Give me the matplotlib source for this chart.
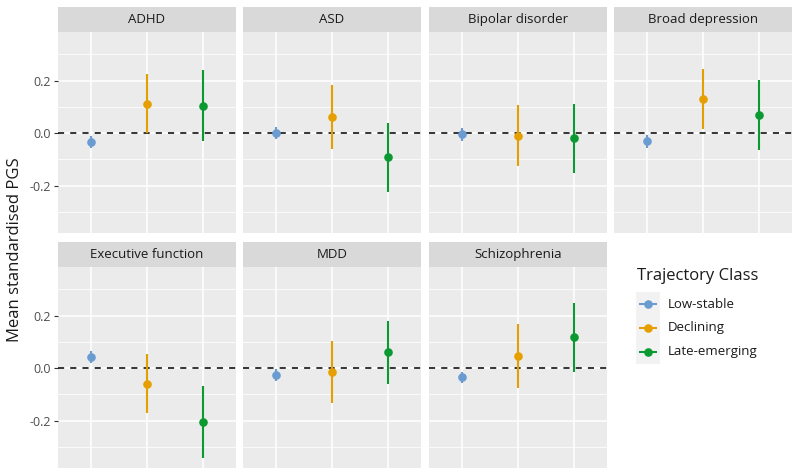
import matplotlib.pyplot as plt
from matplotlib.lines import Line2D

plt.rcParams["font.family"] = ["Open Sans", "DejaVu Sans"]

TRAITS = ["ADHD", "ASD", "Bipolar disorder", "Broad depression",
          "Executive function", "MDD", "Schizophrenia"]
CLASSES = ["Low-stable", "Declining", "Late-emerging"]
COLORS = ["#6A9BD1", "#E69F00", "#0B9A32"]

# mean PGS per trait, one list per trajectory class
low_mean = [-0.033, 0.000, -0.005, -0.030, 0.042, -0.025, -0.034]
low_lo = [-0.056, -0.024, -0.030, -0.056, 0.019, -0.050, -0.057]
low_hi = [-0.012, 0.024, 0.019, -0.008, 0.065, -0.004, -0.013]

dec_mean = [0.110, 0.062, -0.009, 0.130, -0.059, -0.015, 0.047]
dec_lo = [0.000, -0.060, -0.126, 0.017, -0.172, -0.134, -0.075]
dec_hi = [0.227, 0.185, 0.107, 0.243, 0.055, 0.104, 0.167]

late_mean = [0.104, -0.091, -0.018, 0.071, -0.206, 0.060, 0.117]
late_lo = [-0.029, -0.225, -0.150, -0.064, -0.343, -0.061, -0.014]
late_hi = [0.239, 0.039, 0.112, 0.202, -0.069, 0.181, 0.247]

means = [low_mean, dec_mean, late_mean]
lows = [low_lo, dec_lo, late_lo]
highs = [low_hi, dec_hi, late_hi]

W, H = 800, 476
fig = plt.figure(figsize=(W / 100, H / 100), dpi=100)
fig.patch.set_facecolor("white")


def px_axes(x0, y0, x1, y1):
    # pixel box (top-left origin) -> figure axes
    return fig.add_axes([x0 / W, 1 - y1 / H, (x1 - x0) / W, (y1 - y0) / H])


col_x = [58, 243, 429, 614]
panel_w = 178
rows = [(7, 32, 233), (242, 267, 468)]

for i, trait in enumerate(TRAITS):
    r, c = divmod(i, 4)
    s_top, p_top, p_bot = rows[r]
    x0 = col_x[c]

    strip = px_axes(x0, s_top, x0 + panel_w, p_top)
    strip.set_facecolor("#D9D9D9")
    strip.set_xticks([])
    strip.set_yticks([])
    for sp in strip.spines.values():
        sp.set_visible(False)
    strip.text(0.5, 0.5, trait, ha="center", va="center", fontsize=9.5, color="#1A1A1A")

    ax = px_axes(x0, p_top, x0 + panel_w, p_bot)
    ax.set_facecolor("#EBEBEB")
    for sp in ax.spines.values():
        sp.set_visible(False)
    ax.set_xlim(0.4, 3.6)
    ax.set_ylim(-0.38, 0.385)
    ax.set_xticks([1, 2, 3])
    ax.set_yticks([-0.2, 0.0, 0.2])
    ax.set_yticks([-0.3, -0.1, 0.1, 0.3], minor=True)
    ax.grid(True, which="major", color="white", linewidth=1.1)
    ax.grid(True, which="minor", axis="y", color="white", linewidth=0.55)
    ax.set_axisbelow(True)
    ax.tick_params(axis="x", length=0, labelbottom=False)
    ax.tick_params(axis="y", which="minor", length=0)
    if c == 0:
        ax.set_yticklabels(["-0.2", "0.0", "0.2"])
        ax.tick_params(axis="y", which="major", length=3, width=0.8,
                       color="#333333", labelsize=9, labelcolor="#4D4D4D", pad=2)
    else:
        ax.tick_params(axis="y", which="major", length=0, labelleft=False)

    ax.axhline(0, color="black", linestyle=(0, (4, 4)), linewidth=1.1, zorder=2)

    for k in range(len(CLASSES)):
        xk = k + 1
        ax.plot([xk, xk], [lows[k][i], highs[k][i]], color=COLORS[k],
                linewidth=1.5, zorder=3, solid_capstyle="butt")
        ax.plot(xk, means[k][i], "o", color=COLORS[k], markersize=6.2,
                markeredgewidth=0, zorder=4)

fig.text(15 / W, 1 - 250 / H, "Mean standardised PGS", rotation=90,
         ha="center", va="center", fontsize=12, color="#1A1A1A")

# legend
fig.text(637 / W, 1 - 276 / H, "Trajectory Class", ha="left", va="center",
         fontsize=12, color="#1A1A1A")
key = px_axes(636, 292, 660, 364)
key.set_facecolor("#F2F2F2")
key.set_xlim(0, 1)
key.set_ylim(len(CLASSES), 0)
key.set_xticks([])
key.set_yticks([])
for sp in key.spines.values():
    sp.set_visible(False)
for k, name in enumerate(CLASSES):
    yk = k + 0.5
    key.add_line(Line2D([0.15, 0.85], [yk, yk], color=COLORS[k], linewidth=1.5))
    key.plot(0.5, yk, "o", color=COLORS[k], markersize=6.2, markeredgewidth=0)
    fig.text(668 / W, 1 - (304 + 24 * k) / H, name, ha="left", va="center",
             fontsize=9.5, color="#1A1A1A")

fig.savefig("out.png", dpi=100)
